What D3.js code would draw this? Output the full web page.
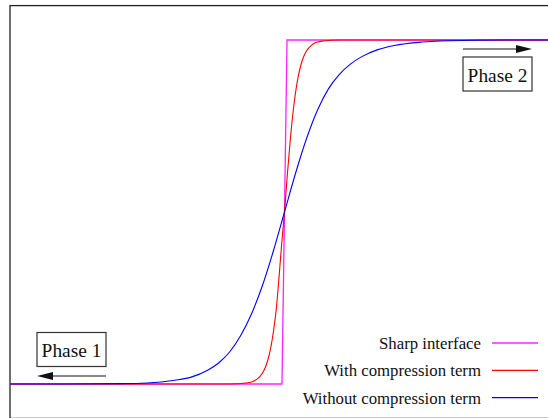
<!DOCTYPE html>
<html>
<head>
<meta charset="utf-8">
<script src="https://cdn.jsdelivr.net/npm/d3@7"></script>
<style>
  body { margin: 0; background: #fff; }
  svg { display: block; }
  text { font-family: "Liberation Serif", "Times New Roman", serif; fill: #111; }
</style>
</head>
<body>
<svg id="chart" width="548" height="418"></svg>
<script>
// profiles across the interface (x: position, y: volume fraction)
var sharpX = [-0.5, -0.0046, 0.0046, 0.5];
var sharpY = [0, 0, 1, 1];

var compX = [-0.5, -0.1, -0.07, -0.06, -0.05, -0.04, -0.035, -0.03, -0.025, -0.02, -0.015, -0.01, -0.005, 0,
             0.005, 0.01, 0.015, 0.02, 0.025, 0.03, 0.035, 0.04, 0.05, 0.06, 0.07, 0.1, 0.5];
var compY = [0, 0.0002, 0.003, 0.006, 0.014, 0.032, 0.048, 0.072, 0.106, 0.154, 0.218, 0.31, 0.41, 0.5,
             0.605, 0.70, 0.782, 0.846, 0.894, 0.928, 0.952, 0.968, 0.986, 0.994, 0.997, 1, 1];

var noCompX = [-0.5, -0.4, -0.3, -0.25, -0.2, -0.17, -0.14, -0.12, -0.1, -0.08, -0.06, -0.04, -0.02, 0,
               0.02, 0.04, 0.06, 0.08, 0.1, 0.12, 0.14, 0.17, 0.2, 0.25, 0.3, 0.4, 0.5];
var noCompY = [0, 0, 0.001, 0.003, 0.011, 0.020, 0.040, 0.061, 0.093, 0.140, 0.204, 0.287, 0.388, 0.5,
               0.612, 0.713, 0.796, 0.858, 0.900, 0.930, 0.951, 0.972, 0.984, 0.994, 0.998, 1, 1];

var legendLabels = ["Sharp interface", "With compression term", "Without compression term"];
var colors = ["#ff22ff", "#ff0000", "#0000ff"];

var svg = d3.select("#chart");

var x = d3.scaleLinear().domain([-0.5, 0.5]).range([10, 559]);
var y = d3.scaleLinear().domain([-0.1, 1.1]).range([418.4, 5.6]);

// frame
svg.append("rect")
    .attr("x", x(-0.5))
    .attr("y", y(1.1))
    .attr("width", x(0.5) - x(-0.5))
    .attr("height", y(-0.1) - y(1.1))
    .attr("fill", "none")
    .attr("stroke", "#222")
    .attr("stroke-width", 1.3);

function zip(xs, ys) {
    return xs.map(function(d, i) { return [d, ys[i]]; });
}

var series = [
    { pts: zip(sharpX, sharpY), curve: d3.curveLinear, w: 1.3 },
    { pts: zip(compX, compY), curve: d3.curveMonotoneX, w: 1.1 },
    { pts: zip(noCompX, noCompY), curve: d3.curveMonotoneX, w: 1.1 }
];

series.forEach(function(s, i) {
    var line = d3.line()
        .x(function(d) { return x(d[0]); })
        .y(function(d) { return y(d[1]); })
        .curve(s.curve);
    svg.append("path")
        .attr("d", line(s.pts))
        .attr("fill", "none")
        .attr("stroke", colors[i])
        .attr("stroke-width", s.w);
});

// legend
var legend = svg.append("g");
legendLabels.forEach(function(lab, i) {
    var ly = 343 + i * 27.3;
    legend.append("text")
        .attr("x", 481)
        .attr("y", ly + 6)
        .attr("text-anchor", "end")
        .attr("font-size", 16.8)
        .text(lab);
    legend.append("line")
        .attr("x1", 492).attr("x2", 538)
        .attr("y1", ly).attr("y2", ly)
        .attr("stroke", colors[i])
        .attr("stroke-width", 1.3);
});

// phase labels with arrows
function phaseBox(label, bx, by, arrowY, dir) {
    var g = svg.append("g");
    g.append("rect")
        .attr("x", bx).attr("y", by)
        .attr("width", 69).attr("height", 34)
        .attr("fill", "#fff")
        .attr("stroke", "#333")
        .attr("stroke-width", 1.2);
    g.append("text")
        .attr("x", bx + 34.5)
        .attr("y", by + 24.5)
        .attr("text-anchor", "middle")
        .attr("font-size", 19.4)
        .text(label);
    var x0 = bx, x1 = bx + 69;
    var tip = dir > 0 ? x1 : x0;
    var base = tip - dir * 16;
    g.append("line")
        .attr("x1", dir > 0 ? x0 : base).attr("x2", dir > 0 ? base : x1)
        .attr("y1", arrowY).attr("y2", arrowY)
        .attr("stroke", "#111")
        .attr("stroke-width", 1.2);
    g.append("path")
        .attr("d", "M" + tip + "," + arrowY + "L" + base + "," + (arrowY - 4) + "L" + base + "," + (arrowY + 4) + "Z")
        .attr("fill", "#111");
}

phaseBox("Phase 1", 37, 332.5, 376, -1);
phaseBox("Phase 2", 463, 57, 49, 1);
</script>
</body>
</html>
